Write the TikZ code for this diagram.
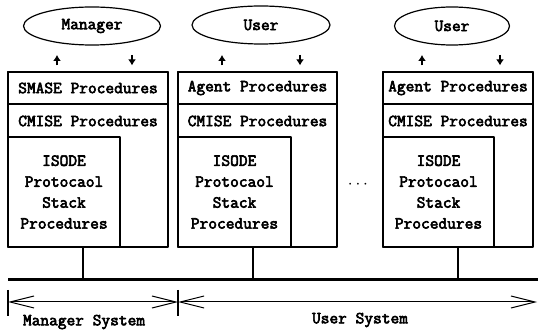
\documentclass[tikz,border=0pt]{standalone}
\usepackage{fontspec}
\newfontfamily\diagfont{Latin Modern Mono}[FakeBold=3.5]
\usetikzlibrary{arrows.meta,shapes.geometric}
\begin{document}
\begin{tikzpicture}[>={Latex[length=6bp,width=8bp]},line join=bevel,line width=1.2bp,
  every node/.style={font=\diagfont\fontsize{17}{21}\selectfont},
  role/.style={draw,ellipse,minimum width=#1,minimum height=38bp,inner sep=0pt},
  sysbox/.style={draw,minimum width=#1,minimum height=175bp,inner sep=0pt},
  rowbox/.style={draw,minimum width=#1,minimum height=32bp,inner sep=0pt},
  stackbox/.style={draw,minimum width=#1,minimum height=110bp,inner sep=0pt,align=center},
  dim/.style={{Straight Barb[length=24bp,width=12bp]}-{Straight Barb[length=24bp,width=12bp]},line width=1bp},
]
\useasboundingbox (0bp,0bp) rectangle (538bp,331bp);
%%
\node (node_manager) at (92bp,305bp) [role=137bp] {Manager};
  \node (node_user_1) at (261bp,306bp) [role=138bp] {User};
  \node (node_user_2) at (452bp,305bp) [role=115bp] {User};
%%
\node (node_sys_0) at (88bp,171.5bp) [sysbox=160bp] {};
  \node (node_sys_1) at (257.5bp,171.5bp) [sysbox=159bp] {};
  \node (node_sys_2) at (458bp,171.5bp) [sysbox=150bp] {};
  \node (node_smase) at (88bp,243bp) [rowbox=160bp] {SMASE Procedures};
  \node (node_agent_1) at (257.5bp,243bp) [rowbox=159bp] {Agent Procedures};
  \node (node_agent_2) at (458bp,243bp) [rowbox=150bp] {Agent Procedures};
  \node (node_cmise_0) at (88bp,210bp) {CMISE Procedures};
  \node (node_cmise_1) at (257.5bp,210bp) {CMISE Procedures};
  \node (node_cmise_2) at (458bp,210bp) {CMISE Procedures};
  \node (node_isode_0) at (64bp,139bp) [stackbox=112bp] {ISODE\\Protocaol\\Stack\\Procedures};
  \node (node_isode_1) at (234.5bp,139bp) [stackbox=113bp] {ISODE\\Protocaol\\Stack\\Procedures};
  \node (node_isode_2) at (438.5bp,139bp) [stackbox=111bp] {ISODE\\Protocaol\\Stack\\Procedures};
  \node (node_dots) at (358bp,146bp) {$\cdots$};
%%
\coordinate (up_0) at (57bp,276bp);
  \coordinate (dn_0) at (132bp,276bp);
  \coordinate (up_1) at (222bp,276bp);
  \coordinate (dn_1) at (300bp,276bp);
  \coordinate (up_2) at (422bp,276bp);
  \coordinate (dn_2) at (500bp,276bp);
  \draw [->,shorten <=6bp] (node_smase.north -| up_0) -- (up_0);
  \draw [->,shorten >=6bp] (dn_0) -- (node_smase.north -| dn_0);
  \draw [->,shorten <=6bp] (node_agent_1.north -| up_1) -- (up_1);
  \draw [->,shorten >=6bp] (dn_1) -- (node_agent_1.north -| dn_1);
  \draw [->,shorten <=6bp] (node_agent_2.north -| up_2) -- (up_2);
  \draw [->,shorten >=6bp] (dn_2) -- (node_agent_2.north -| dn_2);
%%
\coordinate (bus_w) at (8bp,51bp);
  \coordinate (bus_e) at (538bp,51bp);
  \coordinate (tap_0) at (83bp,51bp);
  \coordinate (tap_1) at (253bp,51bp);
  \coordinate (tap_2) at (458bp,51bp);
  \draw [line width=3bp] (bus_w) -- (bus_e);
  \draw (node_isode_0.south -| tap_0) -- (tap_0);
  \draw (node_isode_1.south -| tap_1) -- (tap_1);
  \draw (node_isode_2.south -| tap_2) -- (tap_2);
%%
\coordinate (dim_l) at (8bp,29bp);
  \coordinate (dim_m) at (178bp,29bp);
  \coordinate (dim_r) at (537bp,29bp);
  \draw [dim] (dim_l) -- (dim_m);
  \draw [dim] (dim_m) -- (dim_r);
  \draw ([yshift=12bp]dim_l) -- ([yshift=-14bp]dim_l);
  \draw ([yshift=12bp]dim_m) -- ([yshift=-14bp]dim_m);
  \node (node_msys) at (84bp,9bp) {Manager System};
  \node (node_usys) at (360bp,11bp) {User System};
%
\end{tikzpicture}
\end{document}
